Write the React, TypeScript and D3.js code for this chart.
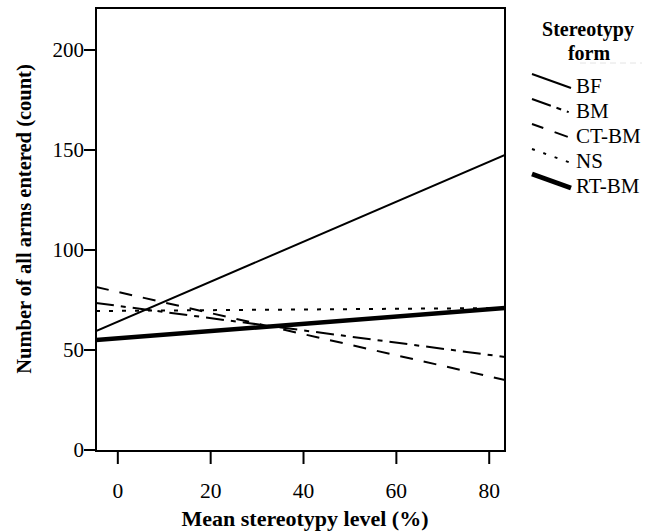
import React from "react";
import * as d3 from "d3";

const seriesNames = ["BF", "BM", "CT-BM", "NS", "RT-BM"];
const xDomain = [-4.7, 83.4];
const startValues = [59.5, 73.5, 81.5, 69.5, 55];
const endValues = [147.5, 46.5, 35, 71, 71];
const yTicks = [0, 50, 100, 150, 200];
const xTicks = [0, 20, 40, 60, 80];

const styles: Record<string, { dash: string; legendDash: string; width: number }> = {
  BF: { dash: "none", legendDash: "none", width: 2 },
  BM: { dash: "18 7 5 7", legendDash: "20 6 5 6 2 50", width: 2 },
  "CT-BM": { dash: "13 11", legendDash: "12 12 14 50", width: 2 },
  NS: { dash: "4 9", legendDash: "3 9", width: 2 },
  "RT-BM": { dash: "none", legendDash: "none", width: 4.5 },
};

export default function App() {
  const W = 649, H = 531;
  const left = 96, right = 505, top = 8, bottom = 451;
  const x = d3.scaleLinear().domain(xDomain).range([left, right]);
  const y = d3.scaleLinear().domain([0, 221]).range([bottom - 1, top]);
  const font = "'Liberation Serif', 'Times New Roman', serif";
  const line = d3.line<[number, number]>().x((d) => x(d[0])).y((d) => y(d[1]));
  const legendY = [86, 111, 136, 161, 186];
  return (
    <svg width={W} height={H} style={{ position: "absolute", left: 0, top: 0 }} fontFamily={font}>
      <rect x={0} y={0} width={W} height={H} fill="#fff" />
      <defs>
        <clipPath id="plot">
          <rect x={left} y={top} width={right - left} height={bottom - top} />
        </clipPath>
      </defs>
      <g clipPath="url(#plot)">
        {seriesNames.map((n, i) => (
          <path
            key={n}
            d={line([[xDomain[0], startValues[i]], [xDomain[1], endValues[i]]]) || ""}
            fill="none"
            stroke="#000"
            strokeWidth={styles[n].width}
            strokeDasharray={styles[n].dash}
          />
        ))}
      </g>
      <rect x={left} y={top} width={right - left} height={bottom - top} fill="none" stroke="#000" strokeWidth={2} />
      {yTicks.map((t) => (
        <g key={t}>
          <line x1={left - 12} x2={left} y1={y(t)} y2={y(t)} stroke="#000" strokeWidth={2} />
          <text x={left - 12} y={y(t)} dy="0.35em" textAnchor="end" fontSize={21}>{t}</text>
        </g>
      ))}
      {xTicks.map((t) => (
        <g key={t}>
          <line x1={x(t)} x2={x(t)} y1={bottom} y2={bottom + 13} stroke="#000" strokeWidth={2} />
          <text x={x(t)} y={490} dy="0.35em" textAnchor="middle" fontSize={21.5}>{t}</text>
        </g>
      ))}
      <text x={305} y={526} textAnchor="middle" fontSize={22} fontWeight="bold">Mean stereotypy level (%)</text>
      <text transform={`translate(31,${219}) rotate(-90)`} textAnchor="middle" fontSize={20.5} fontWeight="bold">
        Number of all arms entered (count)
      </text>
      <text x={588} y={36} textAnchor="middle" fontSize={20} fontWeight="bold">Stereotypy</text>
      <text x={589} y={60} textAnchor="middle" fontSize={20} fontWeight="bold">form</text>
      <line x1={580} x2={642} y1={63} y2={63} stroke="#e4e4e4" strokeWidth={1} strokeDasharray="6 4" />
      {seriesNames.map((n, i) => (
        <g key={n}>
          <line
            x1={532}
            y1={legendY[i] - 12}
            x2={571}
            y2={legendY[i] + 2}
            stroke="#000"
            strokeWidth={n === "RT-BM" ? 5 : 2}
            strokeDasharray={styles[n].legendDash}
          />
          <text x={576} y={legendY[i]} dy="0.35em" fontSize={21}>{n}</text>
        </g>
      ))}
    </svg>
  );
}
